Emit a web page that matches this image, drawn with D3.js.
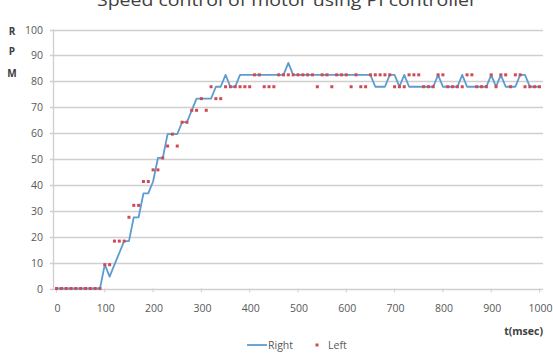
<!DOCTYPE html>
<html>
<head>
<meta charset="utf-8">
<script src="https://cdn.jsdelivr.net/npm/d3@7"></script>
<style>
  body { margin: 0; background: #fff; }
  svg { display: block; font-family: "Open Sans", sans-serif; }
</style>
</head>
<body>
<div id="chart"></div>
<script>
// time steps (msec), one sample every 10 ms
const times = d3.range(0, 1001, 10)

// Right motor (line)
const rightRpm = [
  0, 0, 0, 0, 0, 0, 0, 0, 0, 0,
  9.2, 4.6, 9.2, 13.7, 18.3, 18.3, 27.5, 27.5, 36.7, 36.7,
  41.3, 50.4, 50.4, 59.6, 59.6, 59.6, 64.2, 64.2, 68.8, 73.3,
  73.3, 73.3, 73.3, 77.9, 77.9, 82.5, 77.9, 77.9, 82.5, 82.5,
  82.5, 82.5, 82.5, 82.5, 82.5, 82.5, 82.5, 82.5, 87.1, 82.5,
  82.5, 82.5, 82.5, 82.5, 82.5, 82.5, 82.5, 82.5, 82.5, 82.5,
  82.5, 82.5, 82.5, 82.5, 82.5, 82.5, 77.9, 77.9, 77.9, 82.5,
  82.5, 77.9, 82.5, 77.9, 77.9, 77.9, 77.9, 77.9, 77.9, 82.5,
  77.9, 77.9, 77.9, 77.9, 82.5, 77.9, 77.9, 77.9, 77.9, 77.9,
  82.5, 77.9, 82.5, 77.9, 77.9, 77.9, 82.5, 82.5, 77.9, 77.9,
  77.9
]

// Left motor (dots)
const leftRpm = [
  0, 0, 0, 0, 0, 0, 0, 0, 0, 0,
  9.2, 9.2, 18.3, 18.3, 18.3, 27.5, 32.1, 32.1, 41.3, 41.3,
  45.8, 45.8, 50.4, 55.0, 59.6, 55.0, 64.2, 64.2, 68.8, 68.8,
  73.3, 68.8, 77.9, 73.3, 73.3, 77.9, 77.9, 77.9, 77.9, 77.9,
  77.9, 82.5, 82.5, 77.9, 77.9, 77.9, 82.5, 82.5, 82.5, 82.5,
  82.5, 82.5, 82.5, 82.5, 77.9, 82.5, 82.5, 77.9, 82.5, 82.5,
  82.5, 77.9, 82.5, 77.9, 77.9, 82.5, 82.5, 82.5, 82.5, 82.5,
  77.9, 77.9, 77.9, 82.5, 82.5, 82.5, 77.9, 77.9, 77.9, 82.5,
  82.5, 77.9, 77.9, 77.9, 77.9, 82.5, 82.5, 77.9, 77.9, 77.9,
  82.5, 77.9, 82.5, 82.5, 77.9, 82.5, 82.5, 77.9, 77.9, 77.9,
  77.9
]

const xTicks = d3.range(0, 1001, 100)
const yTicks = d3.range(0, 101, 10)

const width = 553,
      height = 357

let svg = d3.select('#chart')
        .append('svg')
        .attr('width', width)
        .attr('height', height)

let x = d3.scaleLinear().domain([0, 1000]).range([56.5, 539.5])
let y = d3.scaleLinear().domain([0, 100]).range([288.5, 29.5])

// horizontal gridlines
svg.selectAll('.grid')
    .data(yTicks)
    .enter()
    .append('line')
    .attr('x1', 50)
    .attr('x2', 543)
    .attr('y1', d => Math.round(y(d)) + 0.5)
    .attr('y2', d => Math.round(y(d)) + 0.5)
    .attr('stroke', '#cfcfcf')
    .attr('stroke-width', 1.3)

// y axis line
svg.append('line')
    .attr('x1', 53.5).attr('x2', 53.5)
    .attr('y1', y(100)).attr('y2', y(0) + 1)
    .attr('stroke', '#cfcfcf')
    .attr('stroke-width', 1.3)

// x tick marks
svg.selectAll('.xtick')
    .data(xTicks)
    .enter()
    .append('line')
    .attr('x1', d => x(d)).attr('x2', d => x(d))
    .attr('y1', y(0)).attr('y2', y(0) + 4)
    .attr('stroke', '#cfcfcf')

// y tick labels
svg.selectAll('.ylab')
    .data(yTicks)
    .enter()
    .append('text')
    .text(d => d)
    .attr('x', 43)
    .attr('y', d => y(d))
    .attr('text-anchor', 'end')
    .attr('dominant-baseline', 'central')
    .attr('font-size', 10.5)
    .attr('fill', '#595959')

// x tick labels
svg.selectAll('.xlab')
    .data(xTicks)
    .enter()
    .append('text')
    .text(d => d)
    .attr('x', d => x(d) + 1)
    .attr('y', 308)
    .attr('text-anchor', 'middle')
    .attr('dominant-baseline', 'central')
    .attr('font-size', 10.5)
    .attr('fill', '#595959')

// line for Right
let line = d3.line()
    .x((d, i) => x(times[i]))
    .y(d => y(d))

svg.append('path')
    .datum(rightRpm)
    .attr('d', line)
    .attr('fill', 'none')
    .attr('stroke', '#5d9ccf')
    .attr('stroke-width', 1.8)
    .attr('stroke-linejoin', 'round')

// dots for Left
svg.selectAll('.dot')
    .data(leftRpm)
    .enter()
    .append('rect')
    .attr('x', (d, i) => x(times[i]) - 1.5)
    .attr('y', d => y(d) - 1.5)
    .attr('width', 3)
    .attr('height', 3)
    .attr('fill', '#cf4a55')

// title (cut off at the top)
svg.append('text')
    .text('Speed control of motor using PI controller')
    .attr('x', 287)
    .attr('y', 6)
    .attr('text-anchor', 'middle')
    .attr('font-size', 17)
    .attr('textLength', 380)
    .attr('lengthAdjust', 'spacingAndGlyphs')
    .attr('fill', '#404040')

// y axis title, stacked letters
svg.selectAll('.rpm')
    .data(['R', 'P', 'M'])
    .enter()
    .append('text')
    .text(d => d)
    .attr('x', 12)
    .attr('y', (d, i) => [35, 55, 77][i])
    .attr('text-anchor', 'middle')
    .attr('font-size', 10)
    .attr('font-weight', 'bold')
    .attr('fill', '#404040')

// x axis title
svg.append('text')
    .text('t(msec)')
    .attr('x', 543)
    .attr('y', 335)
    .attr('text-anchor', 'end')
    .attr('font-size', 10.5)
    .attr('font-weight', 'bold')
    .attr('fill', '#404040')

// legend
let legend = svg.append('g')
legend.append('line')
    .attr('x1', 247).attr('x2', 267)
    .attr('y1', 345).attr('y2', 345)
    .attr('stroke', '#5d9ccf')
    .attr('stroke-width', 1.8)
legend.append('text')
    .text('Right')
    .attr('x', 268)
    .attr('y', 345)
    .attr('dominant-baseline', 'central')
    .attr('font-size', 10.5)
    .attr('fill', '#595959')
legend.append('rect')
    .attr('x', 315.5).attr('y', 343.5)
    .attr('width', 3).attr('height', 3)
    .attr('fill', '#cf4a55')
legend.append('text')
    .text('Left')
    .attr('x', 328)
    .attr('y', 345)
    .attr('dominant-baseline', 'central')
    .attr('font-size', 10.5)
    .attr('fill', '#595959')
</script>
</body>
</html>
